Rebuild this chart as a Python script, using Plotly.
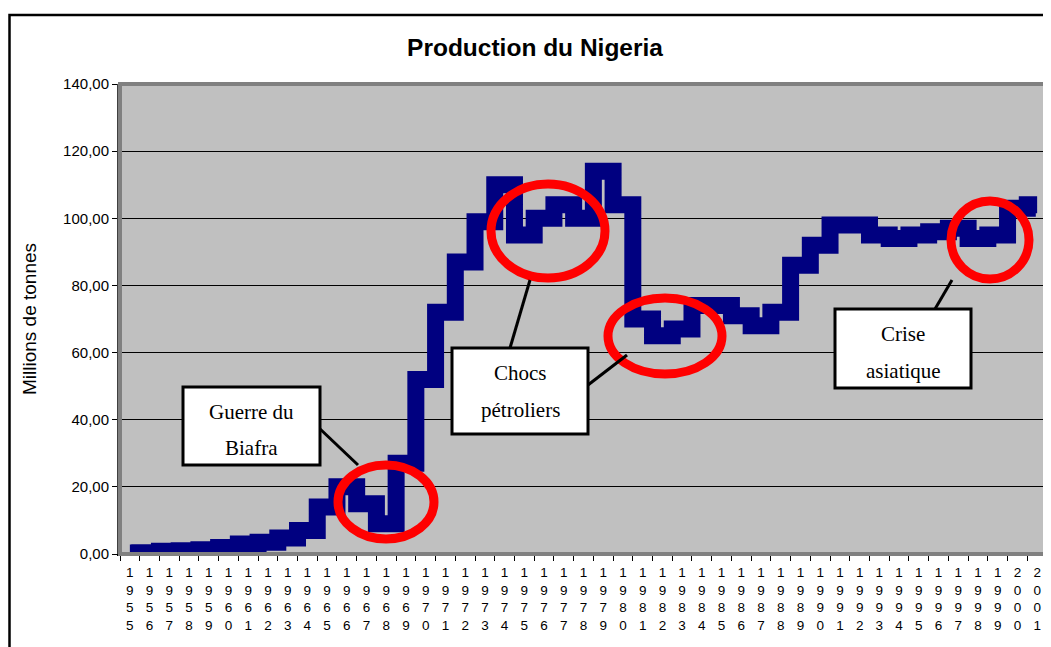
import plotly.graph_objects as go

years = ["1955", "1956", "1957", "1958", "1959", "1960", "1961", "1962", "1963", "1964",
         "1965", "1966", "1967", "1968", "1969", "1970", "1971", "1972", "1973", "1974",
         "1975", "1976", "1977", "1978", "1979", "1980", "1981", "1982", "1983", "1984",
         "1985", "1986", "1987", "1988", "1989", "1990", "1991", "1992", "1993", "1994",
         "1995", "1996", "1997", "1998", "1999", "2000", "2001"]
production = [0.3, 0.4, 0.8, 1.0, 1.3, 1.9, 3.0, 3.5, 4.8, 7.0,
              14.0, 20.0, 15.0, 9.0, 27.0, 52.0, 72.0, 87.0, 99.0, 110.0,
              95.0, 100.0, 104.0, 100.0, 114.0, 104.0, 70.0, 65.0, 67.0, 74.0,
              74.0, 71.0, 68.0, 72.0, 86.0, 92.0, 98.0, 98.0, 95.0, 94.0,
              95.0, 96.0, 97.0, 94.0, 95.0, 103.0, 104.0]
y_ticks = [0, 20, 40, 60, 80, 100, 120, 140]
y_tick_labels = ["0,00", "20,00", "40,00", "60,00", "80,00", "100,00", "120,00", "140,00"]
x_tick_labels = ["<br>".join(list(y)) for y in years]

# page has an 8px body margin: figure is drawn from page (8, 8)
OFF = 8
W, H = 1051 - OFF, 647 - OFF
PL, PT, PW, PH = 120, 84, 927, 470   # plot area in page pixels


def px(x):
    return (x - PL) / PW


def py(y):
    return (PT + PH - y) / PH


fig = go.Figure()
fig.add_trace(go.Scatter(
    x=years, y=production, mode="lines",
    line=dict(color="#000080", width=17, shape="hvh"),
    showlegend=False, hoverinfo="x+y",
))

shapes = []
# outer chart frame
shapes.append(dict(type="rect", xref="paper", yref="paper",
                   x0=px(9.5), x1=px(1070), y0=py(680), y1=py(15),
                   line=dict(color="black", width=2.5), layer="below"))
# plot area wall border
shapes.append(dict(type="rect", xref="paper", yref="paper",
                   x0=px(120), x1=px(1047), y0=py(554), y1=py(84),
                   line=dict(color="#808080", width=4), layer="above"))

# red ellipses (cx, cy, rx, ry) in page pixels
ellipses = [(386, 502, 48, 37), (548, 231, 57, 47), (665, 336, 57, 38), (990, 240, 39, 39)]
for cx, cy, rx, ry in ellipses:
    shapes.append(dict(type="circle", xref="paper", yref="paper",
                       x0=px(cx - rx), x1=px(cx + rx), y0=py(cy + ry), y1=py(cy - ry),
                       line=dict(color="#FF0000", width=9), layer="above"))

# connector lines
connectors = [((318, 427), (358, 465)), ((510, 348), (530, 280)),
              ((588, 385), (627, 355)), ((935, 309), (952, 280))]
for (x0, y0), (x1, y1) in connectors:
    shapes.append(dict(type="line", xref="paper", yref="paper",
                       x0=px(x0), y0=py(y0), x1=px(x1), y1=py(y1),
                       line=dict(color="black", width=3), layer="above"))

# label boxes
boxes = [(183, 387, 320, 465), (452, 348, 588, 434), (835, 309, 971, 388)]
for x0, y0, x1, y1 in boxes:
    shapes.append(dict(type="rect", xref="paper", yref="paper",
                       x0=px(x0), x1=px(x1), y0=py(y1), y1=py(y0),
                       fillcolor="white", line=dict(color="black", width=3), layer="above"))

box_texts = [("Guerre du", 251, 412), ("Biafra", 251, 448),
             ("Chocs", 520, 373), ("pétroliers", 520, 410),
             ("Crise", 903, 334), ("asiatique", 903, 371)]
annotations = []
for t, x, y in box_texts:
    annotations.append(dict(text=t, xref="paper", yref="paper", x=px(x), y=py(y),
                            xanchor="center", yanchor="middle", showarrow=False,
                            font=dict(family="Liberation Serif", size=21, color="black")))

fig.update_layout(
    width=W, height=H,
    margin=dict(l=PL - OFF, r=W - (PL - OFF) - PW, t=PT - OFF, b=H - (PT - OFF) - PH),
    paper_bgcolor="white",
    plot_bgcolor="#C0C0C0",
    title=dict(text="<b>Production du Nigeria</b>", x=(535 - OFF) / W, xanchor="center",
               y=1 - (47 - OFF) / H, yanchor="middle", yref="container",
               font=dict(family="Liberation Sans", size=24.5, color="black")),
    xaxis=dict(type="category", categoryorder="array", categoryarray=years,
               range=[-0.5, len(years) - 0.5],
               tickmode="array", tickvals=years, ticktext=x_tick_labels, tickangle=0,
               tickson="boundaries", ticks="outside", ticklen=5, tickcolor="black",
               ticklabelstandoff=5,
               showline=True, linecolor="black", linewidth=2, showgrid=False,
               tickfont=dict(family="Liberation Sans", size=13.5, color="black")),
    yaxis=dict(range=[0, 140], tickmode="array", tickvals=y_ticks, ticktext=y_tick_labels,
               ticks="outside", ticklen=5, tickcolor="black",
               showline=True, linecolor="#404040", linewidth=3,
               showgrid=True, gridcolor="black", gridwidth=1, zeroline=False,
               tickfont=dict(family="Liberation Sans", size=15, color="black"),
               title=dict(text="Millions de tonnes", standoff=22,
                          font=dict(family="Liberation Sans", size=19, color="black"))),
    shapes=shapes,
    annotations=annotations,
    showlegend=False,
)

fig.write_html("out.html")
